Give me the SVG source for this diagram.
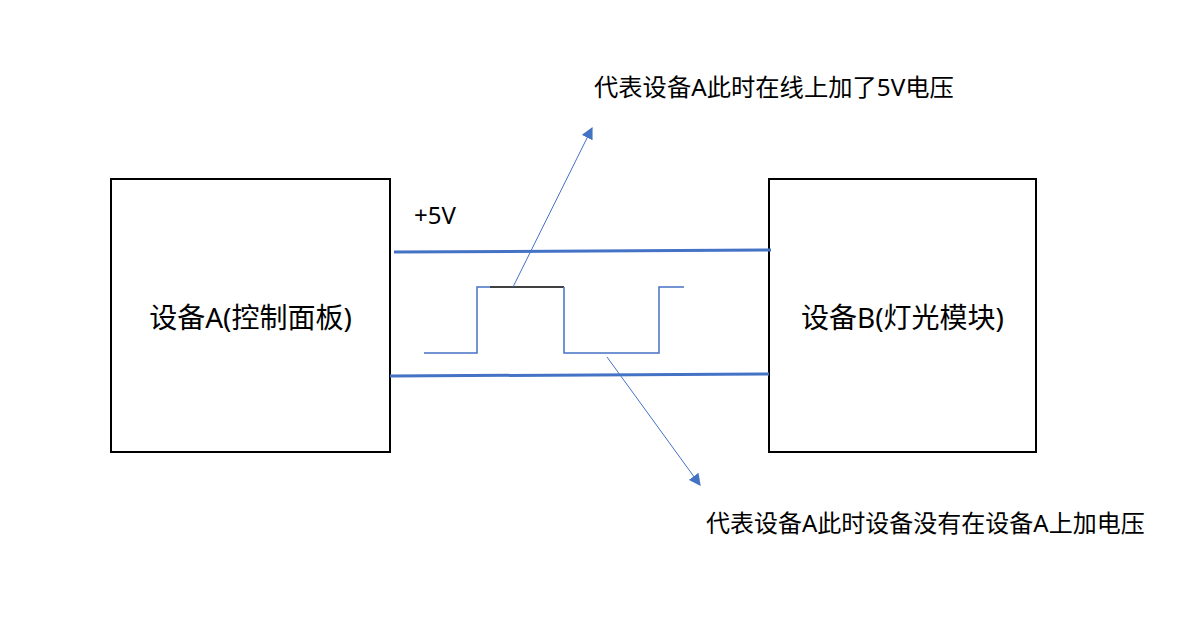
<svg xmlns="http://www.w3.org/2000/svg" width="1187" height="634" viewBox="0 0 1187 634">
<style>
.box{fill:#fff;stroke:#000;stroke-width:2}
.lbl{font-family:"Noto Sans","Noto Sans CJK SC",sans-serif;fill:#000}
.wire{stroke:#4472C4;stroke-width:3;fill:none}
.wave{stroke:#4472C4;stroke-width:1.5;fill:none}
.ptr{stroke:#4472C4;stroke-width:1;fill:none}
</style>
<defs>
<marker id="ah" viewBox="0 0 10 10" refX="9" refY="5" markerWidth="12" markerHeight="12" markerUnits="userSpaceOnUse" orient="auto">
<path d="M0,0 L10,5 L0,10 z" fill="#4472C4"/>
</marker>
</defs>
<rect width="1187" height="634" fill="#fff"/>
<g id="deviceA">
<rect class="box" x="111" y="179" width="279" height="273"/>
<text class="lbl" x="250.5" y="328" font-size="28" text-anchor="middle">设备A(控制面板)</text>
</g>
<g id="deviceB">
<rect class="box" x="769" y="179" width="267" height="273"/>
<text class="lbl" x="902.5" y="328" font-size="28" text-anchor="middle">设备B(灯光模块)</text>
</g>
<g id="connectors">
<line class="wire" x1="394" y1="252" x2="771" y2="250"/>
<line class="wire" x1="390" y1="376" x2="769" y2="374"/>
<polyline class="wave" points="424,353 477,353 477,287 490,287"/>
<line x1="490" y1="287" x2="564" y2="287" stroke="#000" stroke-width="1.5"/>
<polyline class="wave" points="564,287 564,353 659,353 659,287 684,287"/>
<line class="ptr" x1="513" y1="287" x2="592" y2="128" marker-end="url(#ah)"/>
<line class="ptr" x1="607" y1="357" x2="700" y2="485" marker-end="url(#ah)"/>
</g>
<g id="labels">
<text class="lbl" x="414" y="224" font-size="24">+5V</text>
<text class="lbl" x="594" y="96" font-size="24.3">代表设备A此时在线上加了5V电压</text>
<text class="lbl" x="706" y="532" font-size="24">代表设备A此时设备没有在设备A上加电压</text>
</g>
</svg>
